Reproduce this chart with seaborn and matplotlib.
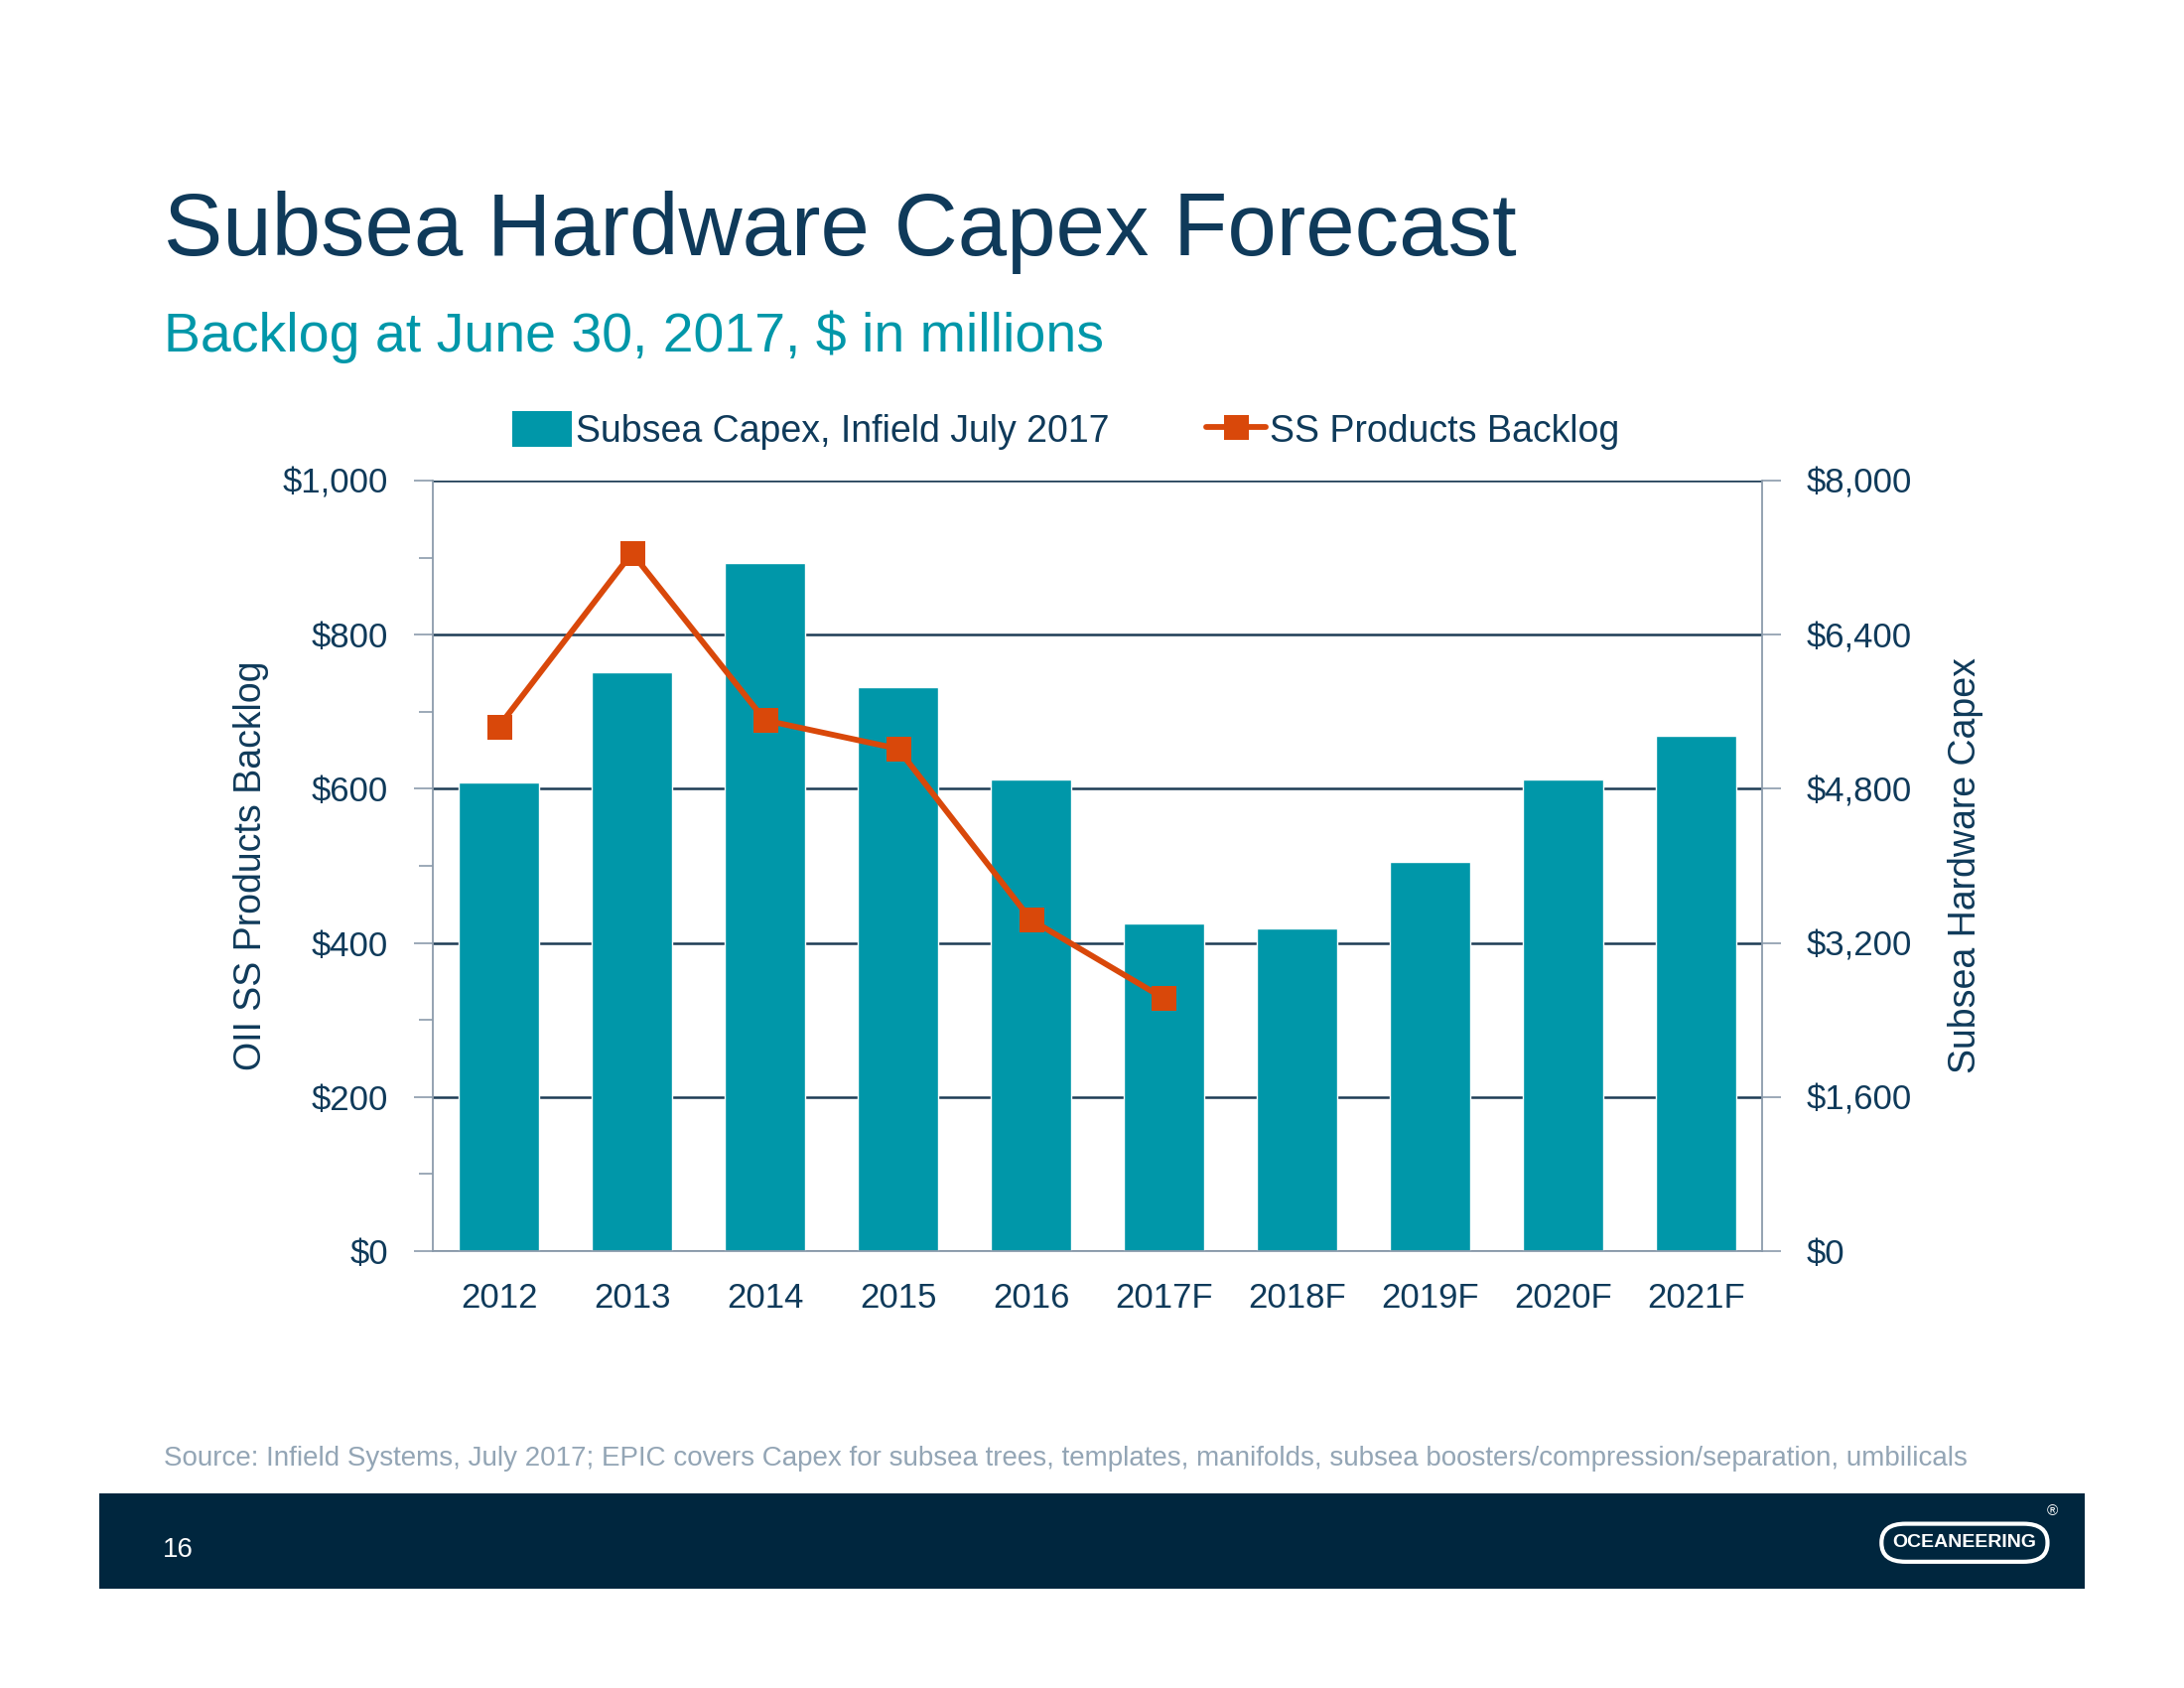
import numpy as np
import pandas as pd
import matplotlib
matplotlib.use("Agg")
import matplotlib.pyplot as plt
from matplotlib.patches import Rectangle, FancyBboxPatch, Patch
from matplotlib.lines import Line2D
from matplotlib.ticker import FixedLocator, FuncFormatter
import seaborn as sns

# --- data ---
years = ["2012", "2013", "2014", "2015", "2016", "2017F", "2018F", "2019F", "2020F", "2021F"]
capex = [4870, 6010, 7140, 5860, 4900, 3400, 3350, 4040, 4900, 5350]   # Subsea Capex, right axis
backlog_years = ["2012", "2013", "2014", "2015", "2016", "2017F"]
backlog = [681, 906, 689, 652, 430, 328]                                 # SS Products Backlog, left axis
left_ticks = [0, 200, 400, 600, 800, 1000]
right_ticks = [0, 1600, 3200, 4800, 6400, 8000]

NAVY = "#0f3a5a"
TEAL = "#0097a9"
ORANGE = "#d9480a"
FOOTER = "#00263e"
GRID = "#1d3c55"
SPINE = "#8b9bab"
FONT = ["Liberation Sans", "DejaVu Sans"]

sns.set_style("white")
plt.rcParams["font.family"] = FONT

fig = plt.figure(figsize=(22, 17), dpi=100)
ax = fig.add_axes([0.198, 0.2588, 0.609, 0.4565])

# bars on the capex scale (drawn first so gridlines sit behind them)
df = pd.DataFrame({"year": years, "capex": capex})
sns.barplot(data=df, x="year", y="capex", ax=ax, color=TEAL, saturation=1,
            width=0.6, zorder=2)

# backlog line on the left scale (twinx resets ax's tick side, so set sides afterwards)
ax2 = ax.twinx()
sns.lineplot(x=np.arange(len(backlog_years)), y=backlog, ax=ax2, color=ORANGE, lw=4.2,
             marker="s", markersize=18, markeredgewidth=0, sort=False, zorder=5)

ax.set_ylim(0, 8000)
ax.set_xlim(-0.5, len(years) - 0.5)
ax.yaxis.tick_right()
ax.yaxis.set_label_position("right")
ax.yaxis.set_major_locator(FixedLocator(right_ticks))
ax.yaxis.set_major_formatter(FuncFormatter(lambda v, p: f"${v:,.0f}"))
ax.set_axisbelow(True)
ax.grid(axis="y", color=GRID, lw=1.8)
ax.grid(axis="x", visible=False)
ax.set_xlabel("")
ax.set_ylabel("Subsea Hardware Capex", fontsize=27, color=NAVY, labelpad=26)

# x ticks: labels at centres, tick marks at category boundaries
ax.set_xticks(np.arange(len(years)))
ax.set_xticklabels(years)
ax.set_xticks(np.arange(len(years) + 1) - 0.5, minor=True)
ax.tick_params(axis="x", which="major", length=0, pad=22, labelsize=25, labelcolor=NAVY)
ax.tick_params(axis="x", which="minor", length=12, width=1.2, color=SPINE, direction="out")
ax.tick_params(axis="y", which="major", length=14, width=1.2, color=SPINE, direction="out",
               pad=18, labelsize=25, labelcolor=NAVY)

for side in ["left", "right", "bottom"]:
    ax.spines[side].set_visible(True)
    ax.spines[side].set_color(SPINE)
    ax.spines[side].set_linewidth(1.3)
ax.spines["top"].set_visible(False)

ax2.set_ylim(0, 1000)
ax2.yaxis.tick_left()
ax2.yaxis.set_label_position("left")
ax2.yaxis.set_major_locator(FixedLocator(left_ticks))
ax2.yaxis.set_minor_locator(FixedLocator([100, 300, 500, 700, 900]))
ax2.yaxis.set_major_formatter(FuncFormatter(lambda v, p: f"${v:,.0f}"))
ax2.tick_params(axis="y", which="major", length=14, width=1.2, color=SPINE, direction="out",
                pad=18, labelsize=25, labelcolor=NAVY)
ax2.tick_params(axis="y", which="minor", length=10, width=1.2, color=SPINE, direction="out")
ax2.set_ylabel("OII SS Products Backlog", fontsize=27, color=NAVY, labelpad=10)
for s in ax2.spines.values():
    s.set_visible(False)
ax2.grid(False)

# legend above the plot
handles = [Patch(facecolor=TEAL, edgecolor="none", label="Subsea Capex, Infield July 2017"),
           Line2D([0], [0], color=ORANGE, lw=4.2, marker="s", markersize=18,
                  markeredgewidth=0, label="SS Products Backlog")]
fig.legend(handles=handles, loc="center", bbox_to_anchor=(0.488, 0.745), ncol=2,
           frameon=False, fontsize=27, labelcolor=NAVY, handlelength=1.6, handleheight=1.1,
           handletextpad=0.1, columnspacing=2.6)

# titles
fig.text(0.075, 0.849, "Subsea Hardware Capex Forecast", fontsize=64, color=NAVY,
         va="baseline", ha="left")
fig.text(0.075, 0.792, "Backlog at June 30, 2017, $ in millions", fontsize=40,
         color=TEAL, va="baseline", ha="left")

# source note
fig.text(0.075, 0.132, "Source: Infield Systems, July 2017; EPIC covers Capex for subsea trees, "
         "templates, manifolds, subsea boosters/compression/separation, umbilicals",
         fontsize=20, color="#93a5b5", va="baseline", ha="left")

# footer band, page number and logo
fig.add_artist(Rectangle((0.0455, 0.0588), 0.909, 0.0565, transform=fig.transFigure,
                         facecolor=FOOTER, edgecolor="none", zorder=0))
fig.text(0.0745, 0.0815, "16", fontsize=20, color="white", va="center", ha="left")
fig.add_artist(FancyBboxPatch((0.8615, 0.0748), 0.076, 0.0225, transform=fig.transFigure,
                              boxstyle="round,pad=0.0,rounding_size=0.011",
                              facecolor=FOOTER, edgecolor="white", lw=3, zorder=1))
fig.text(0.8995, 0.0862, "OCEANEERING", fontsize=14, color="white", fontweight="bold",
         va="center", ha="center", zorder=2)
fig.text(0.9395, 0.1045, "®", fontsize=11, color="white", va="center", ha="center", zorder=2)

fig.savefig("out.png", dpi=100, facecolor="white")
